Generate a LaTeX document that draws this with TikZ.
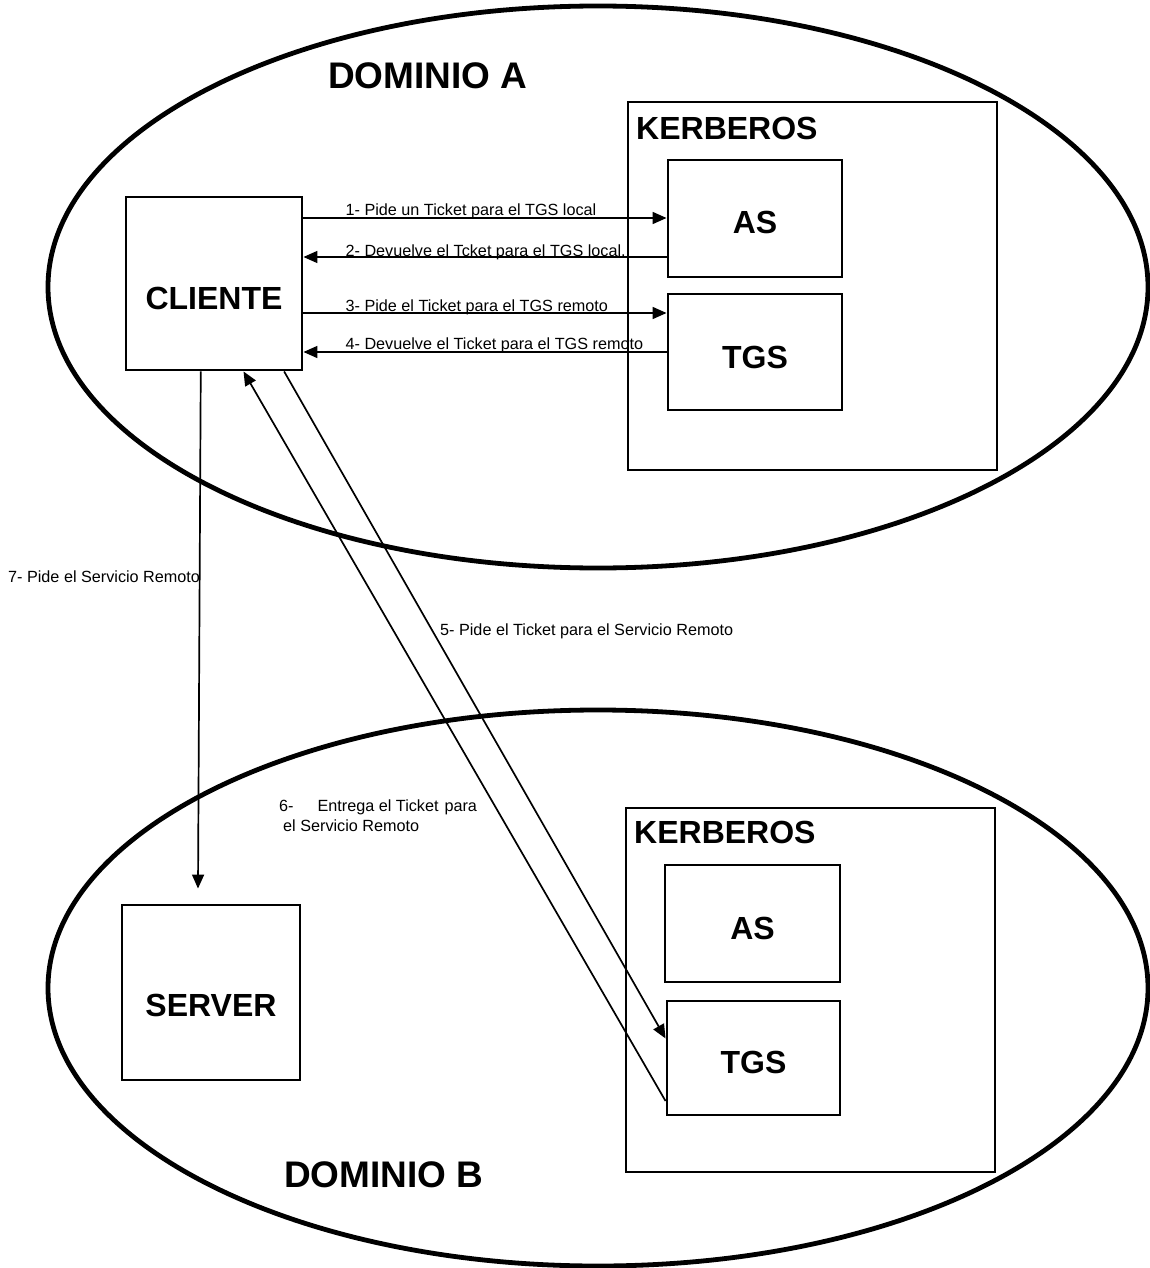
\documentclass[tikz,border=0pt]{standalone}
\usepackage{fontspec}
\setmainfont{Liberation Sans}
\usetikzlibrary{arrows.meta,calc}
\begin{document}
\begin{tikzpicture}[x=1pt,y=-1pt,
  box/.style={draw,line width=2.9pt,inner sep=0pt},
  big/.style={font=\fontsize{32}{36}\selectfont\bfseries,inner sep=0pt},
  dom/.style={font=\fontsize{37}{40}\selectfont\bfseries,inner sep=0pt},
  lbl/.style={font=\fontsize{16.2}{18}\selectfont,inner sep=0pt},
  arr/.style={line width=1.7pt,-{Triangle[length=14pt,width=12pt]}},
  realm/.style={line width=4.8pt}]

\fill[white] (0,0) rectangle (1150,1268);
\useasboundingbox (0,0) rectangle (1150,1268);

% the two domains
\draw[realm] (598,287) ellipse [x radius=550pt, y radius=281pt];
\draw[realm] (598,988) ellipse [x radius=550pt, y radius=278pt];

% domain A
\node[box,minimum width=176pt,minimum height=173pt] (cliente) at (214,283.5) {};
\node[box,minimum width=369pt,minimum height=368pt] (kerbA) at (812.5,286) {};
\node[box,minimum width=174pt,minimum height=117pt] (asA) at (755,218.5) {};
\node[box,minimum width=174pt,minimum height=116pt] (tgsA) at (755,352) {};

% domain B
\node[box,minimum width=178pt,minimum height=175pt] (server) at (211,992.5) {};
\node[box,minimum width=369pt,minimum height=364pt] (kerbB) at (810.5,990) {};
\node[box,minimum width=175pt,minimum height=117pt] (asB) at (752.5,923.5) {};
\node[box,minimum width=173pt,minimum height=114pt] (tgsB) at (753.5,1058) {};

% box captions
\node[big] at ([yshift=-14.5pt]cliente.center) {CLIENTE};
\node[big,anchor=west] at (636,128) {KERBEROS};
\node[big] at ([yshift=-3.5pt]asA.center) {AS};
\node[big] at ([yshift=-5pt]tgsA.center) {TGS};
\node[big] at ([yshift=-12.5pt]server.center) {SERVER};
\node[big,anchor=west] at (634,832) {KERBEROS};
\node[big] at ([yshift=-4.5pt]asB.center) {AS};
\node[big] at ([yshift=-4pt]tgsB.center) {TGS};

\node[dom,anchor=west] at (328,76) {DOMINIO A};
\node[dom,anchor=west] at (284,1175) {DOMINIO B};

% message rows between client and the local KDC
\coordinate (r1) at (0,218);
\coordinate (r2) at (0,257);
\coordinate (r3) at (0,313);
\coordinate (r4) at (0,352);

\draw[arr] (cliente.east |- r1) -- (asA.west |- r1);
\draw[arr] (asA.west |- r2) -- (cliente.east |- r2);
\draw[arr] (cliente.east |- r3) -- (tgsA.west |- r3);
\draw[arr] (tgsA.west |- r4) -- (cliente.east |- r4);

\node[lbl,anchor=base west] at ([xshift=42pt,yshift=3pt]cliente.east |- r1) {1- Pide un Ticket para el TGS local};
\node[lbl,anchor=base west] at ([xshift=42pt,yshift=1pt]cliente.east |- r2) {2- Devuelve el Tcket para el TGS local.};
\node[lbl,anchor=base west] at ([xshift=42pt,yshift=2pt]cliente.east |- r3) {3- Pide el Ticket para el TGS remoto};
\node[lbl,anchor=base west] at ([xshift=42pt,yshift=3pt]cliente.east |- r4) {4- Devuelve el Ticket para el TGS remoto};

% cross-realm messages
\coordinate (c5) at ($(cliente.south west)!0.892!(cliente.south east)$);
\coordinate (c6) at ($(cliente.south west)!0.665!(cliente.south east)$);
\coordinate (c7) at ($(cliente.south west)!0.426!(cliente.south east)$);
\coordinate (t5) at ($(tgsB.north west)!0.333!(tgsB.south west)$);
\coordinate (t6) at ($(tgsB.north west)!0.868!(tgsB.south west)$);
\coordinate (s7) at ([xshift=-13pt,yshift=15pt]server.north);

\draw[arr] (c5) -- (t5);
\draw[arr] (t6) -- (c6);
\draw[arr] (c7) -- (s7);

\node[lbl,anchor=west] at (440,631) {5- Pide el Ticket para el Servicio Remoto};
\node[lbl,anchor=north west,align=left,font=\fontsize{16.2}{20}\selectfont] at (279,800)
  {6-\hspace{24pt}Entrega el Ticket\hspace{6pt}para\\\hspace{4pt}el Servicio Remoto};
\node[lbl,anchor=west] at (8,577) {7- Pide el Servicio Remoto};
\end{tikzpicture}
\end{document}
